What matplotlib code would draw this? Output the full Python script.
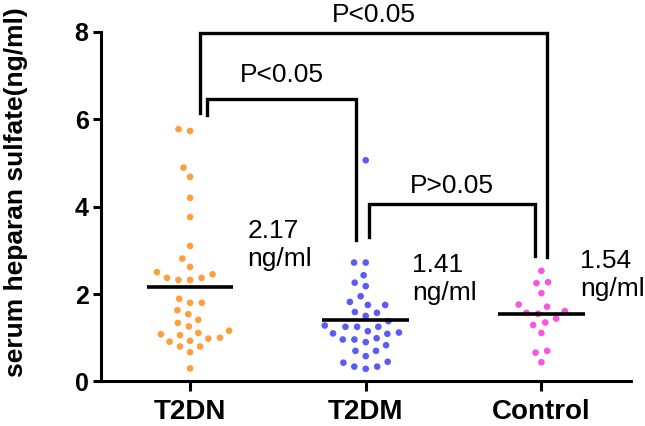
import numpy as np
import pandas as pd
import matplotlib
matplotlib.use("Agg")
import matplotlib.pyplot as plt
import seaborn as sns

# values (ng/ml)
t2dn = [5.73, 5.77, 4.89, 4.68, 4.20, 3.76, 3.10, 2.81, 2.62,
        2.45, 2.37, 2.32, 2.32, 2.37, 2.50, 1.80, 1.80, 1.89,
        1.54, 1.63, 1.34, 1.26, 1.41, 1.16, 1.08, 1.00, 0.91,
        0.93, 0.98, 1.06, 1.11, 0.80, 0.67, 0.80, 0.30]
t2dm = [5.06, 2.72, 2.72, 2.43, 2.18, 2.26, 1.95, 1.75, 1.75,
        1.82, 1.59, 1.50, 1.57, 1.38, 1.25, 1.25, 1.25, 1.28,
        1.12, 1.09, 1.15, 1.10, 0.96, 0.90, 0.96, 0.99, 0.83,
        0.70, 0.70, 0.58, 0.45, 0.34, 0.29, 0.34, 0.43]
control = [2.53, 2.25, 2.27, 2.02, 1.76, 1.71, 1.61, 1.55, 1.57,
           1.44, 1.35, 1.29, 1.11, 0.70, 0.66, 0.44]

groups = ["T2DN", "T2DM", "Control"]
means = [2.17, 1.41, 1.54]
colors = ["#FF9E3D", "#5B5BF6", "#F955DF"]

# pairwise comparisons: (group a, group b, label)
comparisons = [("T2DN", "Control", "P<0.05"),
               ("T2DN", "T2DM", "P<0.05"),
               ("T2DM", "Control", "P>0.05")]

plt.rcParams["font.family"] = ["Liberation Sans", "DejaVu Sans"]

df = pd.DataFrame({
    "group": ["T2DN"] * len(t2dn) + ["T2DM"] * len(t2dm) + ["Control"] * len(control),
    "value": t2dn + t2dm + control,
})

fig = plt.figure(figsize=(6.45, 4.26), dpi=100)
ax = fig.add_axes([0.1566, 0.1045, 0.8217, 0.8211])

# white edge keeps the swarm spacing a bit looser, like the original
sns.swarmplot(data=df, x="group", y="value", hue="group", order=groups,
              palette=dict(zip(groups, colors)), size=6.4, linewidth=1.6,
              edgecolor="white", legend=False, ax=ax, zorder=2)

ax.hlines(means, np.arange(3) - 0.247, np.arange(3) + 0.247,
          color="black", lw=2.6, zorder=3)

# mean labels
label_x = [0.325, 1.265, 2.222]
label_y = [3.12, 2.34, 2.44]
for m, lx, ly in zip(means, label_x, label_y):
    ax.text(lx, ly, f"{m:.2f}\nng/ml", ha="left", va="center",
            fontsize=19, linespacing=1.2)

# significance brackets (left x, right x, top y, left leg end, right leg end, text y)
brackets = [(0.057, 2.03, 7.96, 6.13, 2.85, 8.38),
            (0.095, 0.946, 6.46, 6.09, 3.23, 7.02),
            (1.016, 1.966, 4.07, 3.31, 2.88, 4.48)]
for (a, b, txt), (x1, x2, yt, y1, y2, ty) in zip(comparisons, brackets):
    ax.plot([x1, x1, x2, x2], [y1, yt, yt, y2], color="black", lw=2.4,
            clip_on=False, zorder=4, solid_joinstyle="miter")
    ax.text((x1 + x2) / 2, ty, txt, ha="center", va="center", fontsize=19)

ax.set_xlim(-0.507, 2.51)
ax.set_ylim(0, 8)
ax.set_yticks([0, 2, 4, 6, 8])
ax.set_xticks(range(3))
ax.set_xticklabels(groups, fontsize=20, fontweight="bold")
ax.set_xlabel("")
ax.set_ylabel("serum heparan sulfate(ng/ml)", fontsize=19, fontweight="bold")
ax.yaxis.set_label_coords(-0.138, 0.542)
for t in ax.get_yticklabels():
    t.set_fontsize(18)
    t.set_fontweight("bold")

for s in ["top", "right"]:
    ax.spines[s].set_visible(False)
for s in ["left", "bottom"]:
    ax.spines[s].set_linewidth(2.2)
ax.tick_params(axis="y", length=6, width=2.2, pad=3)
ax.tick_params(axis="x", length=7.5, width=2.2, pad=5)

fig.savefig("out.png", dpi=100)
